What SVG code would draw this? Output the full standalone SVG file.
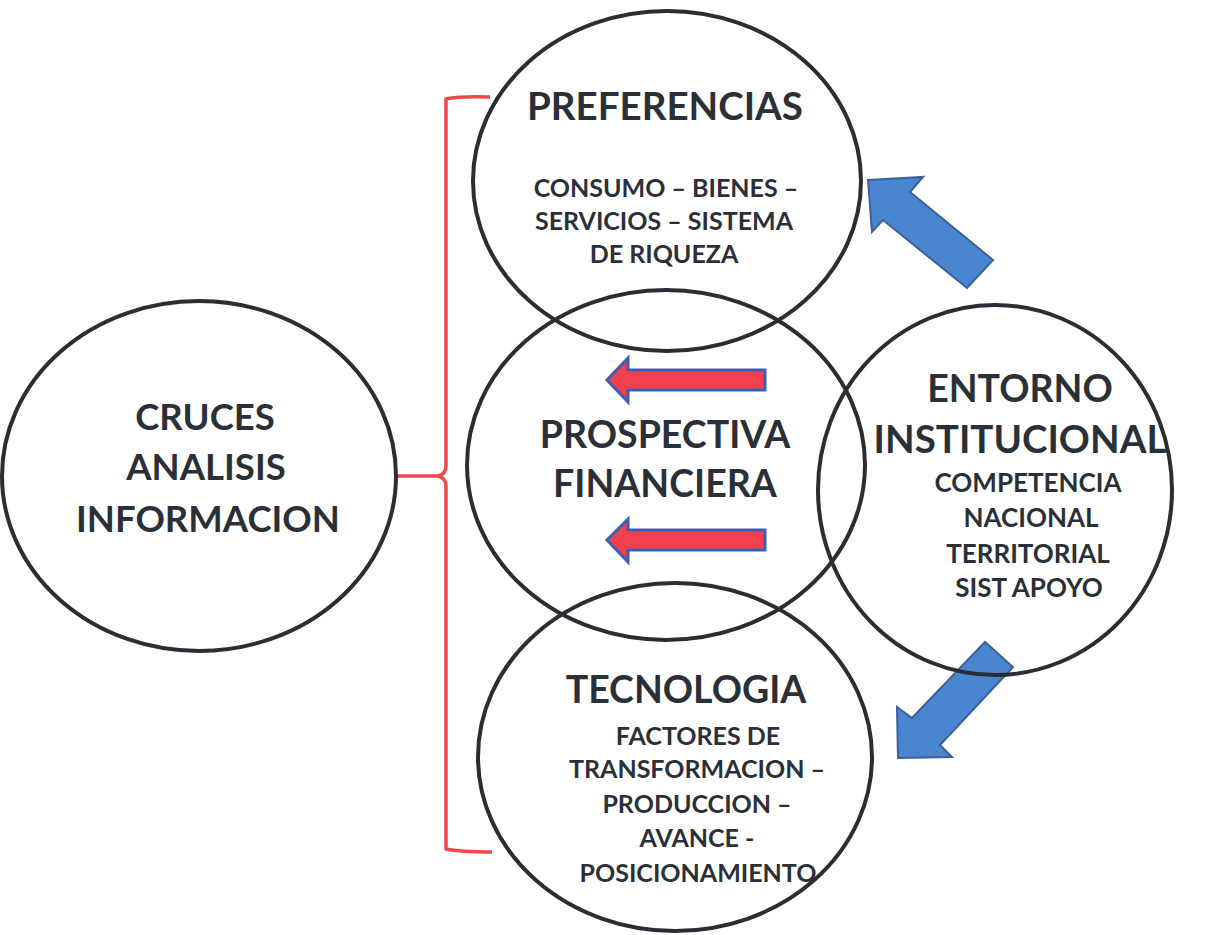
<svg xmlns="http://www.w3.org/2000/svg" width="1217" height="935" viewBox="0 0 1217 935">
  <style>
    .node { fill: none; stroke: #2a2e33; stroke-width: 4; }
    .t { font-family: Lato, "Open Sans", "Liberation Sans", sans-serif; font-weight: bold; fill: #2b3038; text-anchor: middle; }
    .big { font-size: 37.5px; }
    .sm { font-size: 25px; }
    .brace { fill: none; stroke: #ee4a4a; stroke-width: 3.5; stroke-linejoin: round; }
    .red { fill: #f2404f; stroke: #3f5fb5; stroke-width: 3; stroke-linejoin: miter; }
    .blue { fill: #4a86d0; stroke: #3a5f9a; stroke-width: 2; stroke-linejoin: miter; }
  </style>
  <rect width="1217" height="935" fill="#ffffff"/>

  <g id="connectors">
    <!-- brace joining the left circle to the three stacked circles -->
    <path class="brace" d="M490,97 Q460,96 446,99 L446,466 Q446,474 438,476 L398,476 M438,476 Q446,478 446,486 L446,849 Q460,852 492,852"/>
    <!-- red arrows pointing left inside the centre circle -->
    <polygon class="red" points="765,370 628,370 628,358 607,380 628,402 628,390 765,390"/>
    <polygon class="red" points="765,530 628,530 628,519 607,540 628,562 628,550 765,550"/>
    <!-- blue arrows from the right circle -->
    <polygon class="blue" points="868,180 923,177 910,192 993,260 967,288 883,220 872,232"/>
    <polygon class="blue" points="898,758 897,707 912,718 985,642 1013,667 940,745 952,757"/>
  </g>

  <g id="cruces">
    <ellipse class="node" cx="199" cy="476" rx="197" ry="175"/>
    <text class="t" font-size="36.5" x="205" y="430">CRUCES</text>
    <text class="t" font-size="36.5" x="206" y="480">ANALISIS</text>
    <text class="t" font-size="36.5" x="208" y="532">INFORMACION</text>
  </g>

  <g id="preferencias">
    <ellipse class="node" cx="667" cy="181" rx="194" ry="170"/>
    <text class="t" font-size="38.5" x="665" y="120">PREFERENCIAS</text>
    <text class="t sm" x="666" y="197">CONSUMO – BIENES –</text>
    <text class="t sm" x="664" y="230">SERVICIOS – SISTEMA</text>
    <text class="t sm" x="664" y="263">DE RIQUEZA</text>
  </g>

  <g id="prospectiva">
    <ellipse class="node" cx="666" cy="465" rx="199" ry="175"/>
    <text class="t big" x="665" y="448">PROSPECTIVA</text>
    <text class="t big" x="665" y="497">FINANCIERA</text>
  </g>

  <g id="tecnologia">
    <ellipse class="node" cx="675" cy="757" rx="197" ry="174"/>
    <text class="t big" x="686" y="703">TECNOLOGIA</text>
    <text class="t sm" x="698" y="745">FACTORES DE</text>
    <text class="t sm" x="697" y="778">TRANSFORMACION –</text>
    <text class="t sm" x="697" y="813">PRODUCCION –</text>
    <text class="t sm" x="697" y="847">AVANCE -</text>
    <text class="t sm" x="698" y="882">POSICIONAMIENTO</text>
  </g>

  <g id="entorno">
    <ellipse class="node" cx="995" cy="490" rx="177" ry="185"/>
    <text class="t big" x="1020" y="402">ENTORNO</text>
    <text class="t" font-size="38.5" x="1020" y="453">INSTITUCIONAL</text>
    <text class="t" font-size="26" x="1028" y="492">COMPETENCIA</text>
    <text class="t" font-size="26" x="1031" y="527">NACIONAL</text>
    <text class="t" font-size="26" x="1028" y="563">TERRITORIAL</text>
    <text class="t" font-size="26" x="1029" y="597">SIST APOYO</text>
  </g>
</svg>
